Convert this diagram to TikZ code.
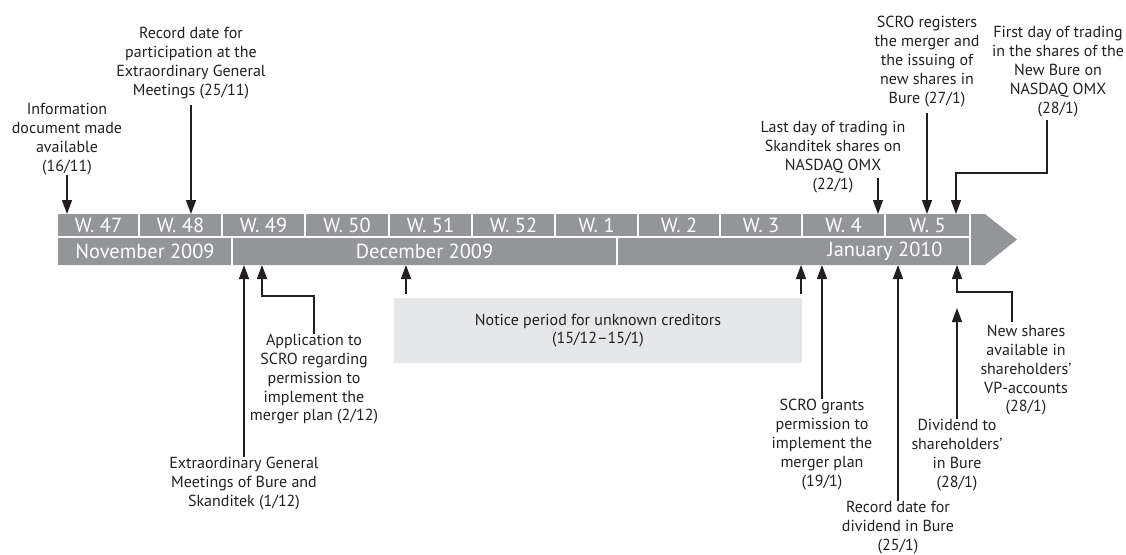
\documentclass[tikz,border=0pt]{standalone}
\usepackage{fontspec}
\setmainfont{PT Sans}
\usepackage{tikz}
\usetikzlibrary{arrows.meta}
\definecolor{bargray}{HTML}{939598}
\definecolor{boxgray}{HTML}{E6E7E8}
\definecolor{ink}{HTML}{231F20}

\begin{document}
\begin{tikzpicture}[x=0.5pt,y=-0.5pt,
    note/.style={align=center,inner sep=0pt,text=ink,font=\fontsize{8}{9.4}\selectfont},
    barlabel/.style={text=white,inner sep=0pt,font=\fontsize{10.2}{12}\selectfont},
    tip/.style={draw=ink,line width=0.65pt,-{Triangle[length=7pt,width=5pt]}},
    sep/.style={draw=white,line width=0.8pt}]
   \useasboundingbox (0,0) rectangle (1126,554);
   % time bar
   \fill[bargray] (58,214) -- (985,214) -- (1017,239.5) -- (985,265) -- (58,265) -- cycle;
   \coordinate (bartop) at (0,214);
   \coordinate (barbot) at (0,265);
   \foreach \xa/\xb/\wk in {58/139/47,139/222/48,222/305/49,305/389/50,389/472/51,472/555/52,555/638/1,638/720/2,720/802/3,802/885/4,885/970/5} {
      \node[barlabel] (w\wk) at ({(\xa+\xb)/2},225.5) {W. \wk};
      \draw[sep] (\xb,214) -- (\xb,237);
   }
   \draw[sep] (58,237) -- (970,237);
   \draw[sep] (970,214) -- (970,265);
   \foreach \xs in {232,617} \draw[sep] (\xs,237) -- (\xs,265);
   \node[barlabel] (nov) at (145,251.5) {November 2009};
   \node[barlabel] (dec) at (424.5,251.5) {December 2009};
   \node[barlabel,anchor=east] (jan) at (943,251.5) {January 2010};

   % events above the bar
   \node[note,anchor=south] (infodoc) at (67,175) {Information\\document made\\available\\(16/11)};
   \draw[tip] (infodoc.south) -- (infodoc.south |- bartop);
   \node[note,anchor=south] (recdate) at (191,99) {Record date for\\participation at the\\Extraordinary General\\Meetings (25/11)};
   \draw[tip] ([yshift=-3pt]recdate.south) -- (recdate.south |- bartop);
   \node[note,anchor=south] (lastday) at (833,193) {Last day of trading in\\Skanditek shares on\\NASDAQ OMX\\(22/1)};
   \coordinate (lastdaytail) at (878,178);
   \draw[tip] (lastdaytail) -- (lastdaytail |- bartop);
   \node[note,anchor=south] (register) at (927,107) {SCRO registers\\the merger and\\the issuing of\\new shares in\\Bure (27/1)};
   \draw[tip] ([yshift=-3pt]register.south) -- (register.south |- bartop);
   \node[note,anchor=south] (firstday) at (1058,117) {First day of trading\\in the shares of the\\New Bure on\\NASDAQ OMX\\(28/1)};
   \coordinate (firstdaytail) at (1047,120);
   \coordinate (firstdaytip) at (956,214);
   \draw[tip] (firstdaytail) -- (1047,173) -| (firstdaytip);

   % events below the bar
   \node[note,anchor=north] (egm) at (244,457) {Extraordinary General\\Meetings of Bure and\\Skanditek (1/12)};
   \draw[tip] (egm.north) -- (egm.north |- barbot);
   \node[note,anchor=north] (appl) at (314,334) {Application to\\SCRO regarding\\permission to\\implement the\\merger plan (2/12)};
   \coordinate (appltip) at (262,265);
   \draw[tip] (appl.north) -- (314,296) -| (appltip);
   \node[fill=boxgray,inner sep=0pt,minimum width=204pt,minimum height=32.5pt,align=center,text=ink,font=\fontsize{8}{9.4}\selectfont] (notice) at (598,330.5) {Notice period for unknown creditors\\(15/12--15/1)};
   \coordinate (noticeL) at (406,294);
   \coordinate (noticeR) at (801,294);
   \draw[tip] (noticeL) -- (noticeL |- barbot);
   \draw[tip] (noticeR) -- (noticeR |- barbot);
   \node[note,anchor=north] (grants) at (822,399) {SCRO grants\\permission to\\implement the\\merger plan\\(19/1)};
   \draw[tip] (grants.north) -- (grants.north |- barbot);
   \node[note,anchor=north] (recdiv) at (898,501) {Record date for\\dividend in Bure\\(25/1)};
   \draw[tip] (recdiv.north) -- (recdiv.north |- barbot);
   \node[note,anchor=north] (dividend) at (957,419) {Dividend to\\shareholders’\\in Bure\\(28/1)};
   \coordinate (dividendtip) at (957,308);
   \draw[tip] (dividend.north) -- (dividendtip);
   \node[note,anchor=north] (newshares) at (1026,325) {New shares\\available in\\shareholders’\\VP-accounts\\(28/1)};
   \coordinate (newsharestail) at (1012,322);
   \coordinate (newsharestip) at (957,265);
   \draw[tip] (newsharestail) -- (1012,292) -| (newsharestip);
\end{tikzpicture}
\end{document}
